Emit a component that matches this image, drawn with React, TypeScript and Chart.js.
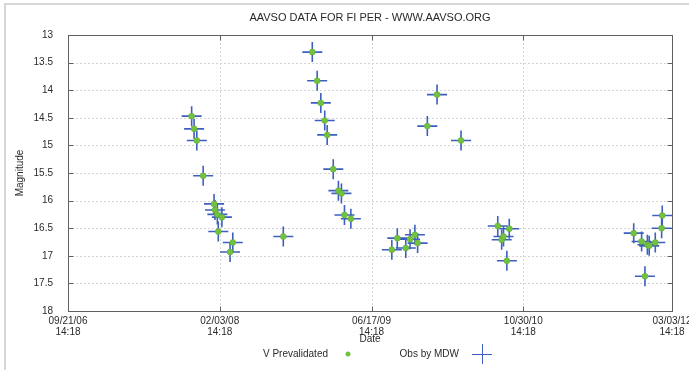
import React, { useEffect, useRef } from 'react';
import { Chart, registerables } from 'chart.js';
Chart.register(...registerables);

const obsJD = [
  2454407.5, 2454415.5, 2454424.5, 2454445.4, 2454481.3, 2454484.3, 2454492.2, 2454507.2, 2454495.2, 2454543, 2454534,
  2454709.4,
  2454805, 2454821, 2454833, 2454846, 2454854, 2454874, 2454891, 2454901, 2454911, 2454932,
  2455184, 2455216, 2455295,
  2455067, 2455085, 2455113, 2455127, 2455143, 2455152,
  2455416, 2455429, 2455435, 2455454, 2455446,
  2455864, 2455890, 2455909, 2455915, 2455935, 2455956, 2455958, 2455901,
];
const obsMag = [
  14.47, 14.7, 14.91, 15.55, 16.06, 16.17, 16.25, 16.3, 16.56, 16.76, 16.93,
  16.65,
  13.31, 13.83, 14.23, 14.55, 14.81, 15.43, 15.82, 15.87, 16.26, 16.33,
  14.65, 14.08, 14.91,
  16.89, 16.68, 16.86, 16.7, 16.62, 16.77,
  16.46, 16.71, 16.65, 16.51, 17.09,
  16.59, 16.74, 16.8, 16.82, 16.76, 16.5, 16.27, 17.37,
];

// x axis: JD range and labelled positions (the last one is the axis end)
const xTickJD = [2454000.0958333, 2454500.0958333, 2455000.0958333, 2455500.0958333, 2455990.0958333];
const yTicks = [13, 13.5, 14, 14.5, 15, 15.5, 16, 16.5, 17, 17.5, 18];
const titleText = 'AAVSO DATA FOR FI PER - WWW.AAVSO.ORG';
const xTitle = 'Date';
const yTitle = 'Magnitude';
const seriesNames = ['V Prevalidated', 'Obs by MDW'];

const FONT = "'Liberation Sans', Arial, sans-serif";
const GREEN = '#72c23f';
const BLUE = '#3d5fc0';

function jdLabel(jd: number): string[] {
  const mins = Math.round((jd - 2440587.5) * 1440);
  const d = new Date(mins * 60000);
  const p = (n: number) => String(n).padStart(2, '0');
  return [
    `${p(d.getUTCMonth() + 1)}/${p(d.getUTCDate())}/${p(d.getUTCFullYear() % 100)}`,
    `${p(d.getUTCHours())}:${p(d.getUTCMinutes())}`,
  ];
}

const decor = {
  id: 'decor',
  beforeDatasetsDraw(chart: any) {
    const { ctx, chartArea: a, scales } = chart;
    const xs = scales.x, ys = scales.y;
    ctx.save();
    // outer frame
    ctx.fillStyle = '#d6d6d6';
    ctx.fillRect(4, 3, 2, 367);
    ctx.fillRect(4, 3, 685, 2);
    // grid
    ctx.strokeStyle = '#d4d4d4';
    ctx.lineWidth = 1;
    ctx.setLineDash([2, 2]);
    xTickJD.forEach((v) => {
      const px = Math.round(xs.getPixelForValue(v)) + 0.5;
      if (px > a.left + 2 && px < a.right - 2) {
        ctx.beginPath(); ctx.moveTo(px, a.top); ctx.lineTo(px, a.bottom); ctx.stroke();
      }
    });
    yTicks.forEach((v) => {
      const py = Math.round(ys.getPixelForValue(v)) + 0.5;
      if (py > a.top + 2 && py < a.bottom - 2) {
        ctx.beginPath(); ctx.moveTo(a.left, py); ctx.lineTo(a.right, py); ctx.stroke();
      }
    });
    ctx.setLineDash([]);
    // frame
    ctx.strokeStyle = '#606060';
    ctx.lineWidth = 1;
    const L = Math.round(a.left) + 0.5, R = Math.round(a.right) + 0.5;
    const T = Math.round(a.top) + 0.5, B = Math.round(a.bottom) + 0.5;
    ctx.strokeRect(L, T, R - L, B - T);
    // inward tick marks
    const tl = 5;
    ctx.beginPath();
    xTickJD.forEach((v) => {
      const px = Math.round(xs.getPixelForValue(v)) + 0.5;
      ctx.moveTo(px, B); ctx.lineTo(px, B - tl);
      ctx.moveTo(px, T); ctx.lineTo(px, T + tl);
    });
    yTicks.forEach((v) => {
      const py = Math.round(ys.getPixelForValue(v)) + 0.5;
      ctx.moveTo(L, py); ctx.lineTo(L + tl, py);
      ctx.moveTo(R, py); ctx.lineTo(R - tl, py);
    });
    ctx.stroke();
    ctx.restore();
  },
  afterDraw(chart: any) {
    const { ctx, chartArea: a } = chart;
    const cx = (a.left + a.right) / 2;
    ctx.save();
    ctx.fillStyle = '#2a2a2a';
    ctx.textAlign = 'center';
    ctx.textBaseline = 'middle';
    ctx.font = `11px ${FONT}`;
    ctx.fillText(titleText, cx, 18);
    ctx.font = `10px ${FONT}`;
    ctx.fillText(xTitle, cx, 339);
    ctx.save();
    ctx.translate(20, (a.top + a.bottom) / 2);
    ctx.rotate(-Math.PI / 2);
    ctx.fillText(yTitle, 0, 0);
    ctx.restore();
    // legend
    const ly = 354;
    ctx.textAlign = 'right';
    ctx.fillText(seriesNames[0], 328, ly);
    ctx.fillText(seriesNames[1], 459, ly);
    ctx.fillStyle = GREEN;
    ctx.beginPath(); ctx.arc(348, ly, 2.5, 0, Math.PI * 2); ctx.fill();
    ctx.strokeStyle = BLUE;
    ctx.lineWidth = 1;
    ctx.beginPath();
    ctx.moveTo(472, ly + 0.5); ctx.lineTo(492, ly + 0.5);
    ctx.moveTo(482.5, ly - 10); ctx.lineTo(482.5, ly + 10);
    ctx.stroke();
    ctx.restore();
  },
};

export default function App() {
  const ref = useRef<HTMLCanvasElement>(null);
  useEffect(() => {
    if (!ref.current) return;
    const pts = obsJD.map((x, i) => ({ x, y: obsMag[i] }));
    const chart = new Chart(ref.current, {
      type: 'scatter',
      data: {
        datasets: [
          {
            label: seriesNames[0],
            data: pts,
            pointStyle: 'circle',
            pointRadius: 3,
            backgroundColor: GREEN,
            borderColor: '#5aa832',
            borderWidth: 0.5,
          },
          {
            label: seriesNames[1],
            data: pts,
            pointStyle: 'cross',
            pointRadius: 10,
            borderColor: BLUE,
            backgroundColor: BLUE,
            borderWidth: 1.6,
          },
        ],
      },
      options: {
        responsive: false,
        animation: false,
        events: [],
        layout: { padding: { left: 0, right: 17, top: 35, bottom: 0 } },
        plugins: { legend: { display: false }, title: { display: false }, tooltip: { enabled: false } },
        scales: {
          x: {
            type: 'linear',
            min: xTickJD[0],
            max: xTickJD[xTickJD.length - 1],
            afterBuildTicks: (s: any) => { s.ticks = xTickJD.map((v) => ({ value: v })); },
            afterFit: (s: any) => { s.height = 59; s.paddingLeft = 0; s.paddingRight = 0; },
            grid: { display: false, drawTicks: false },
            border: { display: false },
            ticks: {
              autoSkip: false,
              maxRotation: 0,
              padding: 5,
              color: '#2a2a2a',
              font: { family: FONT, size: 10, lineHeight: 1.1 },
              callback: (v: any) => jdLabel(Number(v)),
            },
          },
          y: {
            type: 'linear',
            reverse: true,
            min: 13,
            max: 18,
            afterBuildTicks: (s: any) => { s.ticks = yTicks.map((v) => ({ value: v })); },
            afterFit: (s: any) => { s.width = 68; s.paddingTop = 0; s.paddingBottom = 0; },
            grid: { display: false, drawTicks: false },
            border: { display: false },
            ticks: {
              padding: 15,
              color: '#2a2a2a',
              font: { family: FONT, size: 10 },
              callback: (v: any) => String(v),
            },
          },
        },
      },
      plugins: [decor],
    });
    return () => chart.destroy();
  }, []);
  return (
    <div style={{ position: 'fixed', left: 0, top: 0, width: 689, height: 370, background: '#fff' }}>
      <canvas ref={ref} width={689} height={370} style={{ display: 'block' }} />
    </div>
  );
}
